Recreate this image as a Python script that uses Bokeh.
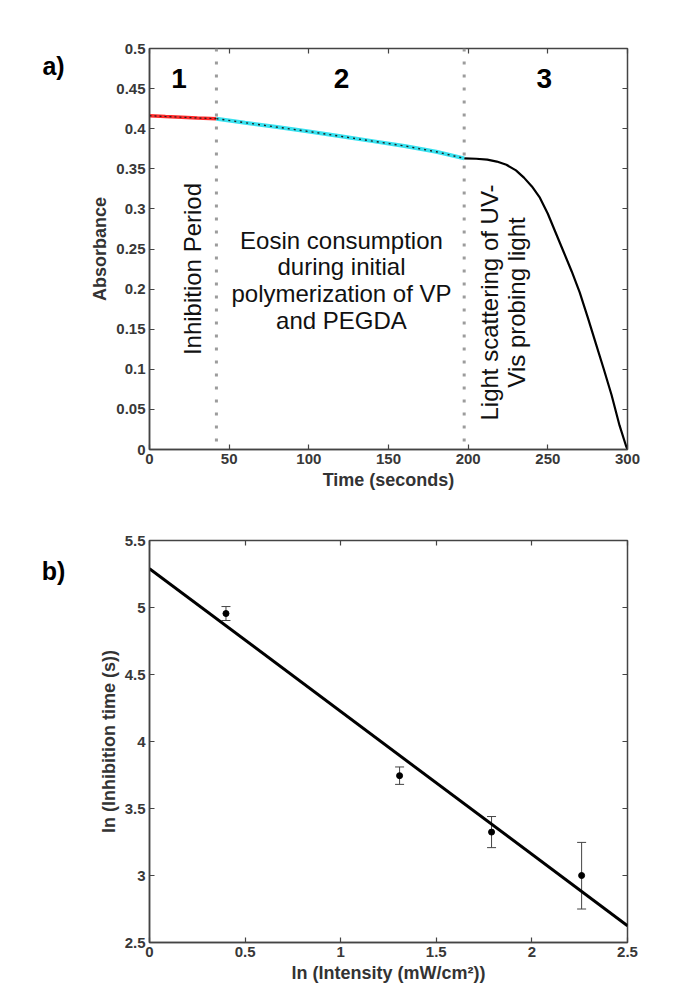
import numpy as np
from bokeh.plotting import figure
from bokeh.models import (LinearAxis, Label, Span, Whisker, TeeHead,
                          ColumnDataSource, FixedTicker, Range1d)
from bokeh.layouts import column, row
from bokeh.embed import file_html
from bokeh.resources import INLINE
from bokeh.core.properties import value

# ---------------- Panel a data ----------------
inhib_t = [0, 10, 20, 30, 42]
inhib_a = [0.4162, 0.4152, 0.4143, 0.4134, 0.4125]

cons_t = [42, 60, 80, 100, 120, 140, 160, 180, 197.5]
cons_a = [0.4125, 0.4075, 0.4020, 0.3965, 0.3905, 0.3845, 0.3785, 0.3712, 0.3630]

scat_t = [197.5, 205, 212, 218, 224, 230, 235, 240, 245, 250, 255, 260,
          265, 270, 275, 280, 285, 290, 295, 299, 300]
scat_a = [0.3630, 0.3625, 0.3615, 0.3590, 0.3550, 0.3480, 0.3390, 0.3280,
          0.3140, 0.2940, 0.2700, 0.2460, 0.2220, 0.1960, 0.1650, 0.1330,
          0.1010, 0.0680, 0.0300, 0.0050, 0.0]

boundary_t = [42, 197.5]
region_labels = ["1", "2", "3"]
region_label_t = [18.6, 120.5, 247.8]
region_label_a = [0.4626, 0.4626, 0.4626]

a_xticks = [0, 50, 100, 150, 200, 250, 300]
a_yticks = [0, 0.05, 0.1, 0.15, 0.2, 0.25, 0.3, 0.35, 0.4, 0.45, 0.5]
a_ytick_labels = ["0", "0.05", "0.1", "0.15", "0.2", "0.25", "0.3",
                  "0.35", "0.4", "0.45", "0.5"]

# ---------------- Panel b data ----------------
ln_intensity = [0.40, 1.308, 1.789, 2.26]
ln_inhib = [4.955, 3.745, 3.324, 3.000]
ln_inhib_upper = [5.007, 3.810, 3.440, 3.247]
ln_inhib_lower = [4.903, 3.680, 3.208, 2.750]
fit_x = [0, 2.5]
fit_y = [5.29, 2.625]

b_xticks = [0, 0.5, 1, 1.5, 2, 2.5]
b_xtick_labels = ["0", "0.5", "1", "1.5", "2", "2.5"]
b_yticks = [2.5, 3, 3.5, 4, 4.5, 5, 5.5]
b_ytick_labels = ["2.5", "3", "3.5", "4", "4.5", "5", "5.5"]

panel_letters = ["a)", "b)"]

FONT = "Liberation Sans"
TICK_COL = "#383838"
FRAME_COL = "#444444"
STRIP_W = 80


def style_axes(p, xticks, xlabels, yticks, ylabels, xlabel, ylabel):
    p.grid.visible = False
    p.outline_line_color = FRAME_COL
    p.outline_line_width = 1.5
    for ax, ticks, labels in ((p.xaxis[0], xticks, xlabels), (p.yaxis[0], yticks, ylabels)):
        ax.ticker = FixedTicker(ticks=ticks)
        ax.major_label_overrides = {t: l for t, l in zip(ticks, labels)}
        ax.major_tick_in = 5
        ax.major_tick_out = 0
        ax.major_tick_line_color = FRAME_COL
        ax.major_tick_line_width = 1.2
        ax.minor_tick_line_color = None
        ax.axis_line_color = FRAME_COL
        ax.axis_line_width = 1.5
        ax.major_label_text_font = FONT
        ax.major_label_text_font_style = "bold"
        ax.major_label_text_font_size = "15px"
        ax.major_label_text_color = TICK_COL
        ax.major_label_standoff = 4
        ax.axis_label_text_font = FONT
        ax.axis_label_text_font_style = "bold"
        ax.axis_label_text_font_size = "18px"
        ax.axis_label_text_color = "#333333"
        ax.axis_label_standoff = 3
    p.xaxis[0].axis_label = xlabel
    p.yaxis[0].axis_label = ylabel
    for loc, ticks in (("above", xticks), ("right", yticks)):
        ax = LinearAxis(ticker=FixedTicker(ticks=ticks),
                        major_label_text_color=None,
                        major_label_text_font_size="10px",
                        major_label_standoff=0,
                        axis_line_color=None,
                        major_tick_in=5, major_tick_out=0,
                        major_tick_line_color=FRAME_COL,
                        major_tick_line_width=1.2,
                        minor_tick_line_color=None)
        p.add_layout(ax, loc)


# ---------------- Panel a ----------------
pa = figure(width=682 - STRIP_W, height=500, output_backend="svg", toolbar_location=None,
            x_range=Range1d(0, 300), y_range=Range1d(0, 0.5),
            min_border_left=146 - STRIP_W, min_border_right=53,
            min_border_top=48, min_border_bottom=51,
            background_fill_color="white", border_fill_color="white")
style_axes(pa, a_xticks, [str(t) for t in a_xticks], a_yticks, a_ytick_labels,
           "Time (seconds)", "Absorbance")

for t in boundary_t:
    pa.add_layout(Span(location=t, dimension="height", line_color="#9c9c9c",
                       line_width=3, line_dash="3 10"))

pa.line(scat_t, scat_a, line_color="black", line_width=2.2)
pa.line(inhib_t, inhib_a, line_color="#ff2a2a", line_width=3.5)
pa.line(inhib_t, inhib_a, line_color="#202020", line_width=1.2, line_dash="2 3")
pa.line(cons_t, cons_a, line_color="#38e2f0", line_width=4)
pa.line(cons_t, cons_a, line_color="#202020", line_width=1.4, line_dash="2 4")

pa.text(x=region_label_t, y=region_label_a, text=region_labels,
        text_font=value(FONT), text_font_style="bold", text_font_size="28px",
        text_align="center", text_baseline="middle", text_color="black")

pa.add_layout(Label(x=27.3, y=0.225, text="Inhibition Period", angle=np.pi / 2,
                    text_font=FONT, text_font_size="24px", text_align="center",
                    text_baseline="middle", text_color="#111111"))
pa.add_layout(Label(x=120.5, y=0.278,
                    text="Eosin consumption\nduring initial\npolymerization of VP\nand PEGDA",
                    text_font=FONT, text_font_size="24px", text_align="center",
                    text_baseline="top", text_color="#111111", text_line_height=0.99))
pa.add_layout(Label(x=221.7, y=0.1833, text="Light scattering of UV-\nVis probing light",
                    angle=np.pi / 2, text_font=FONT, text_font_size="24px",
                    text_align="center", text_baseline="middle", text_color="#111111",
                    text_line_height=0.99))

# ---------------- Panel b ----------------
pb = figure(width=682 - STRIP_W, height=490, output_backend="svg", toolbar_location=None,
            x_range=Range1d(0, 2.5), y_range=Range1d(2.5, 5.5),
            min_border_left=149 - STRIP_W, min_border_right=55,
            min_border_top=40, min_border_bottom=48,
            background_fill_color="white", border_fill_color="white")
style_axes(pb, b_xticks, b_xtick_labels, b_yticks, b_ytick_labels,
           "ln (Intensity (mW/cm²))", "ln (Inhibition time (s))")

pb.line(fit_x, fit_y, line_color="black", line_width=3)
src = ColumnDataSource(dict(x=ln_intensity, y=ln_inhib,
                            upper=ln_inhib_upper, lower=ln_inhib_lower))
pb.add_layout(Whisker(source=src, base="x", upper="upper", lower="lower",
                      line_color="#444444", line_width=1,
                      upper_head=TeeHead(size=9, line_color="#444444", line_width=1),
                      lower_head=TeeHead(size=9, line_color="#444444", line_width=1)))
pb.scatter("x", "y", source=src, size=6, color="black")

# ---------------- Left strip with the panel letters ----------------
strip = figure(width=STRIP_W, height=990, output_backend="svg", toolbar_location=None,
               x_range=Range1d(0, STRIP_W), y_range=Range1d(990, 0),
               x_axis_type=None, y_axis_type=None,
               min_border_left=0, min_border_right=0, min_border_top=0, min_border_bottom=0,
               outline_line_color=None, background_fill_color="white",
               border_fill_color="white")
strip.grid.visible = False
strip.text(x=[53, 53], y=[65, 570], text=panel_letters, text_font=value(FONT),
           text_font_style="bold", text_font_size="25px", text_align="center",
           text_baseline="middle", text_color="black")

layout = row(strip, column(pa, pb, spacing=0), spacing=0)
open("out.html", "w").write(file_html(layout, INLINE))
